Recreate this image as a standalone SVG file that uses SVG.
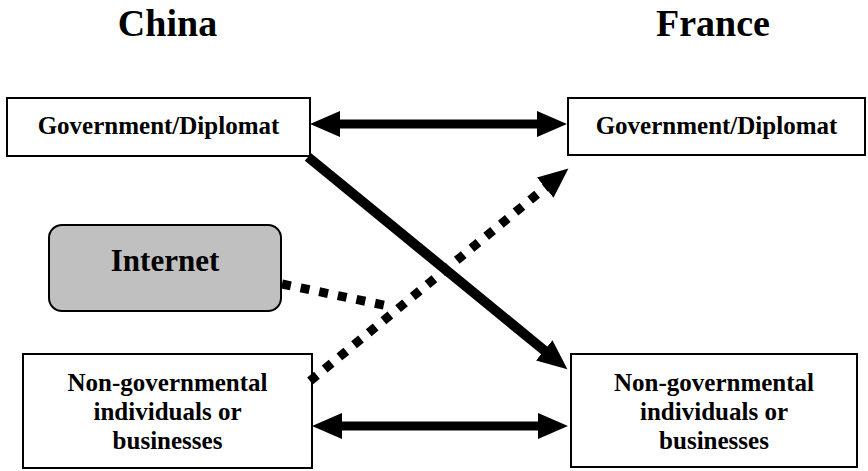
<svg xmlns="http://www.w3.org/2000/svg" width="868" height="471" viewBox="0 0 868 471">
<style>
text{font-family:"Liberation Serif","Times New Roman",serif;font-weight:bold;fill:#000;text-anchor:middle}
.box{fill:#fff;stroke:#000;stroke-width:2}
.t{font-size:25px}
.title{font-size:38px}
.solid{stroke:#000;fill:none}
.dot{stroke:#000;fill:none;stroke-width:9;stroke-dasharray:9 10}
</style>
<defs>
<marker id="ah" markerUnits="userSpaceOnUse" markerWidth="32" markerHeight="30" viewBox="-1 -15 32 30" refX="0" refY="0" orient="auto-start-reverse">
<path d="M-1,-13 L29,0 L-1,13 z" fill="#000"/>
</marker>
</defs>
<rect width="868" height="471" fill="#fff"/>
<g id="title-china"><text class="title" x="167.5" y="36">China</text></g>
<g id="title-france"><text class="title" x="713" y="36">France</text></g>
<g id="china-gov">
<rect class="box" x="7" y="98" width="303" height="58"/>
<text class="t" x="158.5" y="134">Government/Diplomat</text>
</g>
<g id="france-gov">
<rect class="box" x="568" y="98" width="297" height="57"/>
<text class="t" x="716.5" y="134">Government/Diplomat</text>
</g>
<g id="internet">
<rect x="49" y="225" width="232" height="86" rx="13" ry="13" fill="#c0c0c0" stroke="#000" stroke-width="2"/>
<text x="165" y="271" style="font-size:31px">Internet</text>
</g>
<g id="china-ngo">
<rect class="box" x="23" y="354" width="289" height="114"/>
<text class="t" x="167.5" y="391">Non-governmental</text>
<text class="t" x="167.5" y="420">individuals or</text>
<text class="t" x="167.5" y="449">businesses</text>
</g>
<g id="france-ngo">
<rect class="box" x="571" y="354" width="286" height="113"/>
<text class="t" x="714" y="391">Non-governmental</text>
<text class="t" x="714" y="420">individuals or</text>
<text class="t" x="714" y="449">businesses</text>
</g>
<g id="connectors">
<line class="solid" x1="339" y1="124" x2="538" y2="124" stroke-width="9" marker-start="url(#ah)" marker-end="url(#ah)"/>
<line class="solid" x1="341" y1="426" x2="539" y2="426" stroke-width="9" marker-start="url(#ah)" marker-end="url(#ah)"/>
<line class="solid" x1="308" y1="157" x2="545" y2="351" stroke-width="10" marker-end="url(#ah)"/>
<line class="dot" x1="310" y1="381" x2="546" y2="187" marker-end="url(#ah)"/>
<line class="dot" x1="282" y1="284" x2="393" y2="307"/>
</g>
</svg>
